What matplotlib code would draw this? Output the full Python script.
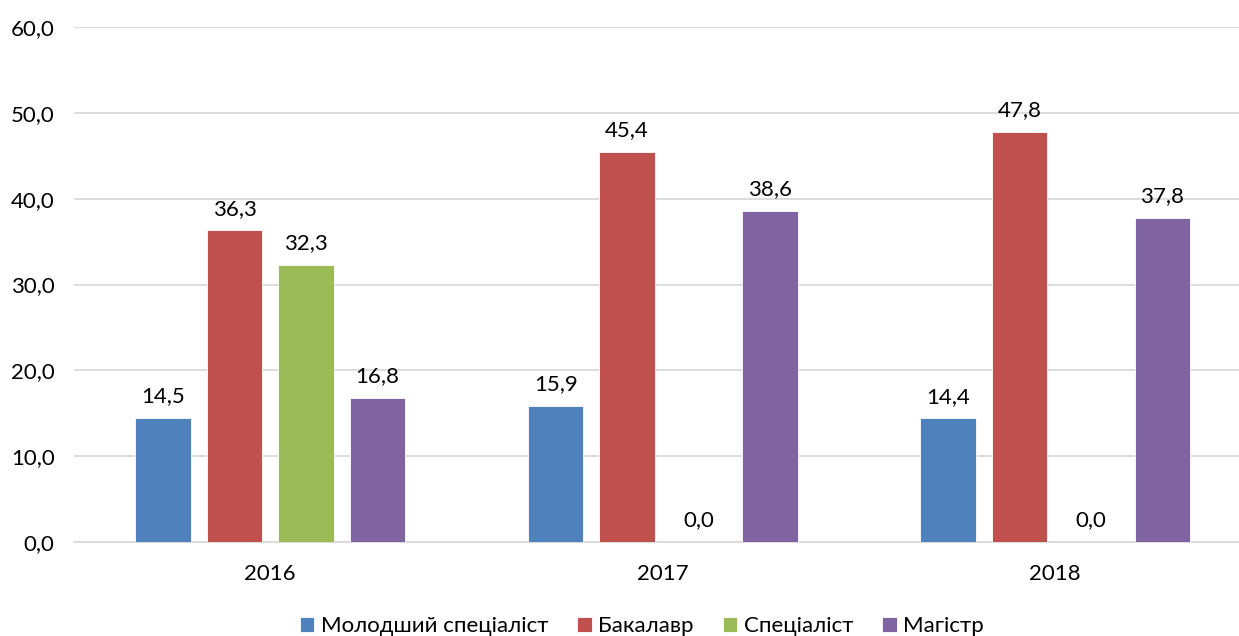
import numpy as np
import matplotlib
matplotlib.use("Agg")
from matplotlib import pyplot as plt
from matplotlib.ticker import FuncFormatter

plt.rcParams["font.family"] = ["Lato", "DejaVu Sans"]

years = ["2016", "2017", "2018"]
series_names = ["Молодший спеціаліст", "Бакалавр", "Спеціаліст", "Магістр"]
junior = [14.5, 15.9, 14.4]
bachelor = [36.3, 45.4, 47.8]
specialist = [32.3, 0.0, 0.0]
master = [16.8, 38.6, 37.8]
colors = ["#4F81BD", "#C0504D", "#9BBB59", "#8064A2"]

fig = plt.figure(figsize=(12.39, 6.36), dpi=100)
ax = fig.add_axes([74 / 1239, 94 / 636, 1165 / 1239, 515 / 636])

x = np.arange(len(years))
step = 0.182
width = 0.142
for i, (name, vals, col) in enumerate(zip(series_names, [junior, bachelor, specialist, master], colors)):
    pos = x + (i - 1.5) * step
    bars = ax.bar(pos, vals, width, color=col, label=name, edgecolor="#ffffff", linewidth=0.6, zorder=3)
    for b, v in zip(bars, vals):
        ax.annotate(f"{v:.1f}".replace(".", ","), (b.get_x() + b.get_width() / 2, v),
                    xytext=(0, 8.5), textcoords="offset points", ha="center", va="bottom",
                    fontsize=16, color="#000000")

ax.set_xlim(-0.5, -0.5 + 1165 / 392.5)
ax.set_ylim(0, 60)
ax.set_yticks(np.arange(0, 61, 10))
ax.yaxis.set_major_formatter(FuncFormatter(lambda v, _: f"{v:.1f}".replace(".", ",")))
ax.set_xticks(x)
ax.set_xticklabels(years)
ax.tick_params(axis="y", length=0, pad=14, labelsize=16)
ax.tick_params(axis="x", length=0, pad=16, labelsize=16)

ax.grid(axis="y", color="#d9d9d9", linewidth=1.3, zorder=0)
for side in ["left", "right", "top"]:
    ax.spines[side].set_visible(False)
ax.spines["bottom"].set_color("#d9d9d9")
ax.spines["bottom"].set_linewidth(1.3)

fig.legend(loc="lower center", bbox_to_anchor=(0.518, -0.032), ncol=4, frameon=False,
           fontsize=16, handlelength=0.65, handleheight=0.65, handletextpad=0.3,
           columnspacing=1.3)

fig.savefig("out.png", dpi=100)
